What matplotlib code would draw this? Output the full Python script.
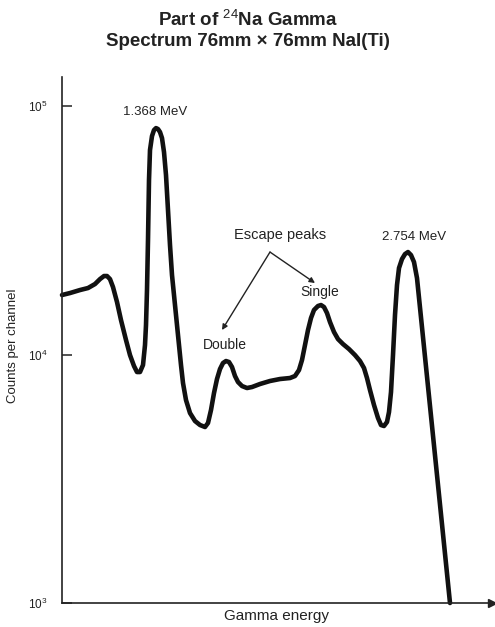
import numpy as np
import matplotlib.pyplot as plt

plt.rcParams['font.family'] = ['Liberation Sans', 'DejaVu Sans']
plt.rcParams['mathtext.fontset'] = 'custom'
plt.rcParams['mathtext.rm'] = 'Liberation Sans'
plt.rcParams['mathtext.bf'] = 'Liberation Sans:bold'

# Datos (canal arbitrario, cuentas por canal)
canal = [0, 8, 18, 26, 33, 38, 42, 45, 48, 51, 55, 59, 64, 68, 72, 75, 78,
         81, 83, 84, 85, 86, 87, 88, 90, 92, 94, 96, 98, 100, 102, 104, 106,
         108, 110, 113, 116, 119, 121, 124, 128, 133, 138, 143, 146, 149, 152,
         155, 158, 161, 164, 167, 170, 173, 176, 180, 185, 190, 198, 208, 218,
         228, 233, 237, 240, 243, 246, 249, 252, 256, 259, 262, 265, 268, 272,
         276, 281, 287, 293, 298, 302, 305, 308, 312, 316, 319, 322, 325, 327,
         329, 331, 333, 335, 337, 340, 343, 346, 349, 352, 355, 388]
cuentas = [17360, 17680, 18180, 18520, 19220, 20120, 20700, 20700, 20120,
           18690, 16270, 13760, 11440, 9950, 8990, 8503, 8503, 9074, 10920,
           13140, 18180, 28890, 50370, 66520, 75730, 80050, 81550, 80800,
           78590, 74330, 65300, 52760, 38150, 27580, 20890, 15820, 11980,
           9074, 7680, 6559, 5815, 5400, 5204, 5109, 5302, 5979, 7000, 7970,
           8742, 9244, 9415, 9329, 8907, 8195, 7752, 7469, 7332, 7400, 7610,
           7825, 7970, 8044, 8195, 8662, 9505, 10920, 12550, 14030, 15110,
           15680, 15820, 15530, 14690, 13510, 12320, 11540, 11020, 10520,
           9950, 9415, 8825, 8044, 7195, 6264, 5553, 5204, 5156, 5352, 5869,
           7064, 9950, 14420, 19040, 22290, 24230, 25370, 25850, 25140, 23560,
           20310, 1000]

ticks_y = [1e3, 1e4, 1e5]
etiquetas_y = ['10$^{3}$', '10$^{4}$', '10$^{5}$']

fig = plt.figure(figsize=(4.95, 6.27), dpi=100)
ax = fig.add_axes([62 / 495, 24 / 627, 430 / 495, 526 / 627])

ax.plot(canal, cuentas, color='#111111', lw=3.3, solid_joinstyle='round',
        solid_capstyle='round', clip_on=False)

ax.set_yscale('log')
ax.set_xlim(0, 430)
ax.set_ylim(1e3, 10 ** 5.117)
ax.set_yticks(ticks_y)
ax.set_yticklabels(etiquetas_y, fontsize=8.5, color='#222222')
ax.yaxis.set_minor_locator(plt.NullLocator())
ax.tick_params(axis='y', direction='in', length=7, width=1.1, pad=10.5,
               color='#222222')
ax.set_xticks([])

for lado in ['top', 'right']:
    ax.spines[lado].set_visible(False)
for lado in ['left', 'bottom']:
    ax.spines[lado].set_linewidth(1.2)
    ax.spines[lado].set_color('#222222')

# flecha del eje x
ax.plot(1, 0, '>', color='#222222', markersize=6, transform=ax.transAxes,
        clip_on=False)

ax.set_xlabel('Gamma energy', fontsize=11, labelpad=4, color='#222222')
ax.set_ylabel('Counts per channel', fontsize=9.5, color='#222222')
ax.yaxis.set_label_coords(-0.101, 0.49)

# Anotaciones
ax.text(93, 94600, '1.368 MeV', fontsize=9.5, ha='center', va='center',
        color='#222222')
ax.text(352, 29700, '2.754 MeV', fontsize=9.5, ha='center', va='center',
        color='#222222')
ax.text(218, 30270, 'Escape peaks', fontsize=10.5, ha='center', va='center',
        color='#222222')
ax.text(258, 17850, 'Single', fontsize=10, ha='center', va='center',
        color='#222222')
ax.text(163, 10920, 'Double', fontsize=10, ha='center', va='center',
        color='#222222')
ax.annotate('', xy=(160, 12550), xytext=(208, 25850),
            arrowprops=dict(arrowstyle='-|>', color='#222222', lw=1.0,
                            mutation_scale=8, shrinkA=0, shrinkB=0))
ax.annotate('', xy=(253, 19400), xytext=(208, 25850),
            arrowprops=dict(arrowstyle='-|>', color='#222222', lw=1.0,
                            mutation_scale=8, shrinkA=0, shrinkB=0))

fig.text(0.5, 1 - 20 / 627, 'Part of $^{24}$Na Gamma', fontsize=13.5,
         fontweight='bold', ha='center', va='center', color='#222222')
fig.text(0.5, 1 - 41 / 627, 'Spectrum 76mm \u00d7 76mm NaI(Ti)', fontsize=13.5,
         fontweight='bold', ha='center', va='center', color='#222222')

plt.savefig('out.png', dpi=100)
